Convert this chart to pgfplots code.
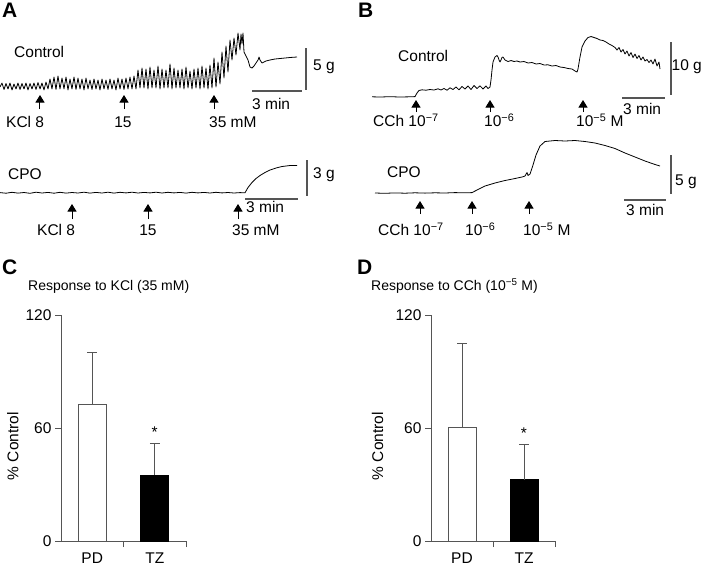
\documentclass[border=0pt]{standalone}
\usepackage{pgfplots}
\pgfplotsset{compat=1.18}
\usetikzlibrary{arrows.meta}
\usepackage{fontspec}
\setmainfont{Liberation Sans}
\definecolor{axgray}{HTML}{555555}
\newcommand\fs{\fontsize{15.5}{18}\selectfont}
\newcommand\fsr{\fontsize{14}{17}\selectfont}
\newcommand\fsp{\fontsize{21}{24}\selectfont\bfseries}

\tikzset{
  kick/.style={-{Triangle[width=9pt,length=7.5pt]},line width=1pt,black},
  sbar/.style={draw=axgray,line width=1.2pt},
  lab/.style={font=\fs,inner sep=0pt},
  trace/.style={black,line width=0.8pt,line join=round},
}

% bar chart look, shared by C and D
\pgfplotsset{
  barpanel/.style={
    scale only axis, height=226pt,
    xmin=0, xmax=4, ymin=0, ymax=120,
    axis x line=bottom, axis y line=left,
    axis line style={draw=axgray,line width=1pt,-},
    ytick={0,60,120}, xtick={2,4}, xticklabels={},
    extra x ticks={1,3}, extra x tick labels={PD,TZ},
    extra x tick style={major tick length=0pt},
    tick align=outside, major tick length=6pt,
    tick style={draw=axgray,line width=1pt},
    ticklabel style={font=\fs},
    xticklabel style={yshift=-8pt},
    /pgf/number format/assume math mode=true,
    ylabel={\% Control}, label style={font=\fs},
  },
  errbar/.style={
    ybar, bar shift=0pt, bar width=28pt, line width=1pt,
    error bars/y dir=plus, error bars/y explicit,
    error bars/error bar style={draw=axgray,line width=1pt},
    error bars/error mark options={rotate=90,draw=axgray,line width=1pt,mark size=5pt},
  },
}

\begin{document}
\begin{tikzpicture}
\useasboundingbox (0,0) rectangle (703pt,-565pt);

% traces, in pixel units of the reference (y downwards)
\begin{axis}[at={(0pt,0pt)}, anchor=north west, scale only axis,
  width=703pt, height=565pt, xmin=0, xmax=703, ymin=0, ymax=565,
  y dir=reverse, axis lines=none, clip=false]

% ---- A, control
\addplot[trace] coordinates {
(0,87) (2,83) (4,89.5) (6,83.5) (8,89) (10,83) (12,90) (14,84) (16,89) (18,83)
(20,89.5) (22,83.5) (24,89) (26,83) (28,90) (30,83.5) (32,89) (34,83) (36,89.5)
(38,82.5) (40,89) (42,83) (44,90) (46,82) (48,89)
(50,79) (52,89) (54,77) (56,89.5) (58,76) (60,89) (62,78) (64,89) (66,77) (68,90)
(70,79) (72,89) (74,77) (76,89.5) (78,78) (80,89) (82,79) (84,90) (86,78) (88,89)
(90,80) (92,89.5) (94,79) (96,89) (98,80) (100,90) (102,79) (104,89) (106,80)
(108,89.5) (110,79) (112,89) (114,80) (116,90) (118,78) (120,89) (122,79)
(124,89.5) (126,78) (128,89) (130,77) (132,89) (134,76) (136,89)
(138,70) (140,88) (142,68) (144,88) (146,69) (148,89) (150,67) (152,88) (154,70)
(156,88) (158,66) (160,89) (162,69) (164,88) (166,70) (168,88) (170,64) (172,89)
(174,68) (176,88) (178,70) (180,88) (182,69) (184,89) (186,67) (188,88) (190,71)
(192,89) (194,69) (196,88) (198,68) (200,89) (202,66) (204,88) (206,68) (208,89)
(210,65) (212,88) (214,58) (216,87)
(218,62) (220,84) (222,52) (224,78) (226,46) (228,72) (230,40) (232,60) (234,38)
(236,55) (238,33) (240,50) (241,34) (242,44) (243,33) (244,52) (246,56) (248,60)
(250,67) (252,68) (254,66) (256,63) (258,60) (259,57) (260,60) (262,63) (266,61)
(270,60) (275,59) (280,58.5) (290,57.5) (297,57)
};
\node[lab,anchor=west] at (axis cs:14,52) {Control};
\draw[sbar] (axis cs:306,48) -- (axis cs:306,90);
\draw[sbar] (axis cs:252,91) -- (axis cs:302,91);
\node[lab,anchor=west] at (axis cs:313,67) {5 g};
\node[lab,anchor=west] at (axis cs:252,104) {3 min};
\draw[kick] (axis cs:40,109) -- (axis cs:40,95);
\draw[kick] (axis cs:124,109) -- (axis cs:124,95);
\draw[kick] (axis cs:214,109) -- (axis cs:214,95);
\node[lab,anchor=west] at (axis cs:6,122) {KCl 8};
\node[lab] at (axis cs:123,122) {15};
\node[lab,anchor=west] at (axis cs:209,122) {35 mM};

% ---- A, CPO
\addplot[trace] coordinates {
(0,192.6) (6,193.2) (12,192.3) (18,193.1) (24,192.5) (30,193.3) (36,192.2)
(42,193) (48,192.4) (54,193.2) (60,192.3) (66,193.1) (72,192.5) (78,193)
(84,192.2) (90,193.1) (96,192.4) (102,193) (108,192.2) (114,193.1) (120,192.3)
(126,192.9) (132,192.2) (138,193) (144,192.4) (150,192.9) (156,192.2) (162,193)
(168,192.3) (174,192.9) (180,192.4) (186,193.1) (192,192.3) (198,192.9)
(204,192.4) (210,193) (216,192.3) (222,192.9) (228,192.5) (234,193) (240,192.6)
(245,192.8) (248,187.5) (252,182.5) (256,178.5) (260,175.5) (265,172.5)
(270,170) (276,168) (282,166.5) (290,165.5) (297,165.5)
};
\node[lab,anchor=west] at (axis cs:8,174) {CPO};
\draw[sbar] (axis cs:307,160) -- (axis cs:307,196);
\draw[sbar] (axis cs:245,199) -- (axis cs:298,199);
\node[lab,anchor=west] at (axis cs:313,175) {3 g};
\node[lab,anchor=west] at (axis cs:246,207) {3 min};
\draw[kick] (axis cs:72,219) -- (axis cs:72,204);
\draw[kick] (axis cs:148,219) -- (axis cs:148,204);
\draw[kick] (axis cs:238,219) -- (axis cs:238,204);
\node[lab,anchor=west] at (axis cs:37,230) {KCl 8};
\node[lab] at (axis cs:148,230) {15};
\node[lab,anchor=west] at (axis cs:232,230) {35 mM};

% ---- B, control
\addplot[trace] coordinates {
(372,96.8) (380,97) (390,96.7) (400,97) (410,96.8) (415,96.6) (417,93)
(419,90.5) (422,89.8) (426,90.2) (430,89.5) (434,90) (438,88.8) (441,90)
(444,88.5) (447,90.2) (450,87.8) (453,89.5) (456,87) (459,89.8) (462,86.5)
(465,89) (468,86) (471,89.5) (474,85.5) (477,88.5) (480,85.8) (483,89)
(486,86) (488,88.5) (490,87) (491,80) (492,70) (493,62) (495,57) (497,55.5)
(498,57) (499,60) (500,62) (501,60) (502,57.5) (503,57) (505,60) (508,61.5)
(511,60.5) (514,61.5) (517,61) (520,62) (524,61.5) (528,63) (532,62.5)
(536,64) (540,63.5) (544,65) (548,64.8) (552,66) (556,65.5) (560,67)
(564,67.5) (568,68.5) (572,69) (575,71) (577,72) (578,69) (580,57) (582,47)
(585,41) (588,37.5) (591,36.5) (594,37.5) (597,38.5) (600,40) (603,40.5)
(606,42) (609,44) (612,45.5) (615,47.5) (617,50) (619,47.5) (621,52)
(623,49.5) (625,54) (627,51) (629,56) (631,52.5) (633,57.5) (635,54)
(637,58.5) (639,55.5) (641,60) (643,57) (645,61) (647,59.5) (649,62.5)
(651,60) (653,64) (655,59) (657,66) (659,62) (660,69)
};
\node[lab,anchor=west] at (axis cs:398,56) {Control};
\draw[sbar] (axis cs:671,42) -- (axis cs:671,95);
\draw[sbar] (axis cs:622,98) -- (axis cs:665,98);
\node[lab,anchor=east] at (axis cs:702,67) {10 g};
\node[lab,anchor=west] at (axis cs:623,109) {3 min};
\draw[kick] (axis cs:416,112) -- (axis cs:416,100);
\draw[kick] (axis cs:490,112) -- (axis cs:490,100);
\draw[kick] (axis cs:583,112) -- (axis cs:583,100);
\node[lab,anchor=west] at (axis cs:373,120) {CCh 10\textsuperscript{−7}};
\node[lab,anchor=west] at (axis cs:484,120) {10\textsuperscript{−6}};
\node[lab,anchor=west] at (axis cs:576,120) {10\textsuperscript{−5} M};

% ---- B, CPO
\addplot[trace] coordinates {
(375,193) (385,193.3) (395,192.9) (405,193.2) (415,192.8) (425,193.1)
(435,192.8) (445,193) (455,192.6) (465,192.8) (472,192.6) (478,189.5)
(485,186) (495,183) (505,180.5) (515,178.5) (522,177) (525,176) (527,172.5)
(528,175.5) (530,174) (533,165) (536,155) (540,146) (545,141.5) (555,140.5)
(565,141) (575,140.5) (585,141.5) (595,143) (605,145.5) (615,148.5)
(625,153) (635,157) (645,161) (655,164.5) (660,166)
};
\node[lab,anchor=west] at (axis cs:387,172) {CPO};
\draw[sbar] (axis cs:671,155) -- (axis cs:671,194);
\draw[sbar] (axis cs:624,200) -- (axis cs:666,200);
\node[lab,anchor=west] at (axis cs:675,182) {5 g};
\node[lab,anchor=west] at (axis cs:626,210) {3 min};
\draw[kick] (axis cs:420,214) -- (axis cs:420,201);
\draw[kick] (axis cs:472,214) -- (axis cs:472,201);
\draw[kick] (axis cs:529,214) -- (axis cs:529,201);
\node[lab,anchor=west] at (axis cs:378,229) {CCh 10\textsuperscript{−7}};
\node[lab,anchor=west] at (axis cs:465,229) {10\textsuperscript{−6}};
\node[lab,anchor=west] at (axis cs:523,229) {10\textsuperscript{−5} M};

% panel letters and bar titles
\node[font=\fsp,anchor=north west,inner sep=0pt] at (axis cs:2,3) {A};
\node[font=\fsp,anchor=north west,inner sep=0pt] at (axis cs:358,3) {B};
\node[font=\fsp,anchor=north west,inner sep=0pt] at (axis cs:2,260) {C};
\node[font=\fsp,anchor=north west,inner sep=0pt] at (axis cs:357,260) {D};
\node[font=\fsr,anchor=west,inner sep=0pt] at (axis cs:28,287) {Response to KCl (35 mM)};
\node[font=\fsr,anchor=west,inner sep=0pt] at (axis cs:371,286) {Response to CCh (10\textsuperscript{−5} M)};
\end{axis}

% ---- C
\begin{axis}[barpanel, at={(61pt,-541pt)}, anchor=south west, width=125pt,
  ylabel style={at={(axis description cs:-0.385,0.42)},anchor=center}]
\addplot[errbar, draw=axgray, fill=white] coordinates {(1,72.7) +- (0,27.3)};
\addplot[errbar, draw=black, fill=black] coordinates {(3,35) +- (0,17)};
\node[font=\fs] at (axis cs:3,58) {*};
\end{axis}

% ---- D
\begin{axis}[barpanel, at={(431pt,-541pt)}, anchor=south west, width=124pt,
  ylabel style={at={(axis description cs:-0.43,0.42)},anchor=center}]
\addplot[errbar, draw=axgray, fill=white] coordinates {(1,60.5) +- (0,44.5)};
\addplot[errbar, draw=black, fill=black] coordinates {(3,32.4) +- (0,19.1)};
\node[font=\fs] at (axis cs:3,57) {*};
\end{axis}
\end{tikzpicture}
\end{document}
